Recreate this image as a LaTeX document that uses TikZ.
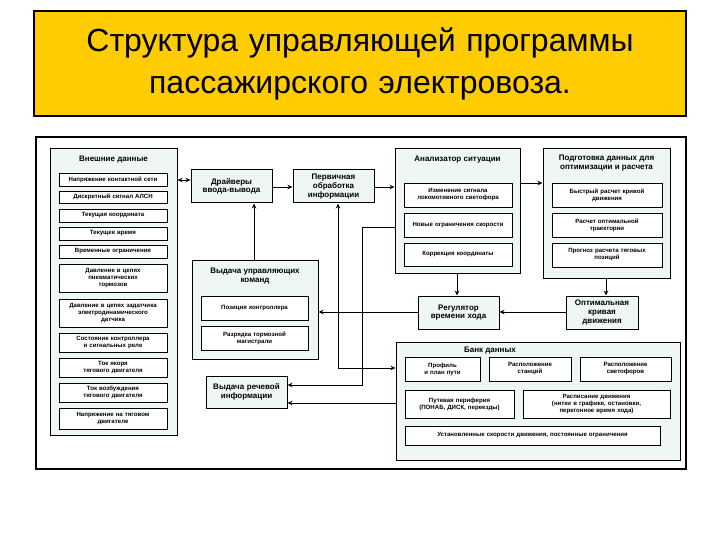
\documentclass[tikz,border=0pt]{standalone}
\usepackage{fontspec}
\setmainfont{Liberation Sans}
\usetikzlibrary{arrows.meta}
\definecolor{pale}{HTML}{EEF6F6}
\definecolor{ttl}{HTML}{FFCC00}
\newcommand\mybox[7]{\pgfmathsetmacro\bw{#4-#2}\pgfmathsetmacro\bh{#5-#3}\pgfmathsetmacro\tw{#4-#2-3}%
\node[#1,minimum width=\bw pt,minimum height=\bh pt,text width=\tw pt] (#6) at ({(#2+#4)/2},{(#3+#5)/2}) {#7};}
\begin{document}
\begin{tikzpicture}[x=1pt,y=-1pt,
 cont/.style={draw,line width=1pt,fill=pale,inner sep=0pt,align=center},
 ib/.style={draw,line width=0.8pt,fill=white,inner sep=0pt,align=center,font=\fontsize{6.1}{7}\selectfont\bfseries},
 sb/.style={draw,line width=1pt,fill=pale,inner sep=0pt,align=center,font=\fontsize{8}{8.6}\selectfont\bfseries},
 hd/.style={inner sep=0pt,align=center,font=\fontsize{8}{8.6}\selectfont\bfseries},
 ar/.style={line width=0.9pt,-{Stealth[length=5pt,width=4.5pt]}},
 ar2/.style={line width=0.9pt,{Stealth[length=5pt,width=4.5pt]}-{Stealth[length=5pt,width=4.5pt]}}]
\useasboundingbox (0,0) rectangle (720,540);
\fill[white] (0,0) rectangle (720,540);
\mybox{draw,line width=1.5pt,fill=ttl,inner sep=0pt,align=center,font=\fontsize{32}{42}\selectfont}{34}{11}{686}{116}{title}{Структура управляющей программы\\пассажирского электровоза.}
\node[draw,line width=1.5pt,minimum width=650pt,minimum height=332pt,inner sep=0pt] (frame) at (361,303) {};
% external data
\mybox{cont}{50}{149}{177}{435}{ext}{}
\node[hd] (exth) at (113.5,160) {Внешние данные};
\mybox{ib}{59}{173}{167}{186}{e1}{Напряжение контактной сети}
\mybox{ib}{59}{191}{167}{203}{e2}{Дискретный сигнал АЛСН}
\mybox{ib}{59}{209}{167}{222}{e3}{Текущая координата}
\mybox{ib}{59}{227}{167}{240}{e4}{Текущее время}
\mybox{ib}{59}{245}{167}{258}{e5}{Временные ограничения}
\mybox{ib}{59}{264}{167}{292}{e6}{Давление в цепях\\пневматических\\тормозов}
\mybox{ib}{59}{299}{167}{327}{e7}{Давление в цепях задатчика\\электродинамического\\датчика}
\mybox{ib}{59}{333}{167}{352}{e8}{Состояние контроллера\\и сигнальных реле}
\mybox{ib}{59}{358}{167}{377}{e9}{Ток якоря\\тягового двигателя}
\mybox{ib}{59}{383}{167}{402}{e10}{Ток возбуждения\\тягового двигателя}
\mybox{ib}{59}{408}{167}{429}{e11}{Напряжение на тяговом\\двигателе}
% drivers etc
\mybox{sb}{191}{170}{272}{203}{drv}{Драйверы\\ввода-вывода}
\mybox{sb}{293}{170}{374}{203}{perv}{Первичная\\обработка\\информации}
\mybox{cont}{192}{260}{318}{359}{vyd}{}
\node[hd] (vydh) at (255,276) {Выдача управляющих\\команд};
\mybox{ib}{201}{296}{308}{320}{pos}{Позиция контроллера}
\mybox{ib}{201}{326}{308}{350}{razr}{Разрядка тормозной\\магистрали}
\mybox{sb}{206}{376}{287}{408}{rech}{Выдача речевой\\информации}
% analyzer
\mybox{cont}{395}{149}{520}{273}{an}{}
\node[hd] (anh) at (457.5,160) {Анализатор ситуации};
\mybox{ib}{404}{183}{512}{207}{a1}{Изменение сигнала\\локомотивного светофора}
\mybox{ib}{404}{213}{512}{237}{a2}{Новые ограничения скорости}
\mybox{ib}{404}{243}{512}{266}{a3}{Коррекция координаты}
% preparation
\mybox{cont}{543}{149}{670}{278}{pod}{}
\node[hd] (podh) at (606.5,163) {Подготовка данных для\\оптимизации и расчета};
\mybox{ib}{552}{183}{662}{207}{p1}{Быстрый расчет кривой\\движения}
\mybox{ib}{552}{213}{662}{237}{p2}{Расчет оптимальной\\траектории}
\mybox{ib}{552}{243}{662}{267}{p3}{Прогноз расчета тяговых\\позиций}
% regulator, optimal
\mybox{sb}{418}{296}{499}{329}{reg}{Регулятор\\времени хода}
\mybox{sb}{566}{296}{638}{329}{opt}{Оптимальная\\кривая\\движения}
% bank
\mybox{cont}{396}{342}{680}{460}{bank}{}
\node[hd] (bankh) at (490,351) {Банк данных};
\mybox{ib}{405}{357}{480}{381}{b1}{Профиль\\и план пути}
\mybox{ib}{489}{357}{571}{381}{b2}{Расположение\\станций}
\mybox{ib}{580}{357}{671}{381}{b3}{Расположение\\светофоров}
\mybox{ib}{405}{390}{514}{418}{b4}{Путевая периферия\\(ПОНАБ, ДИСК, переезды)}
\mybox{ib}{523}{390}{670}{418}{b5}{Расписание движения\\(нитки в графике, остановки,\\перегонное время хода)}
\mybox{ib}{405}{426}{660}{445}{b6}{Установленные скорости движения, постоянные ограничения}
% connectors
\draw[ar2] (ext.east |- 0,180) -- (drv.west |- 0,180);
\draw[ar] (drv.east |- 0,187) -- (perv.west |- 0,187);
\draw[ar] (perv.east |- 0,187) -- (an.west |- 0,187);
\draw[ar] (an.east |- 0,183) -- (pod.west |- 0,183);
\draw[ar] (vyd.north -| 254,0) -- (drv.south -| 254,0);
\draw[ar2] (perv.south -| 338,0) -- (338,368) -- (bank.west |- 0,368);
\draw[ar] (an.west |- 0,227) -- (362,227) -- (362,385) -- (rech.east |- 0,385);
\draw[ar] (reg.west |- 0,312) -- (vyd.east |- 0,312);
\draw[ar] (bank.west |- 0,403) -- (rech.east |- 0,403);
\draw[ar] (an.south -| 457,0) -- (reg.north -| 457,0);
\draw[ar] (pod.south -| 606,0) -- (opt.north -| 606,0);
\draw[ar] (opt.west |- 0,312) -- (reg.east |- 0,312);
\end{tikzpicture}
\end{document}
